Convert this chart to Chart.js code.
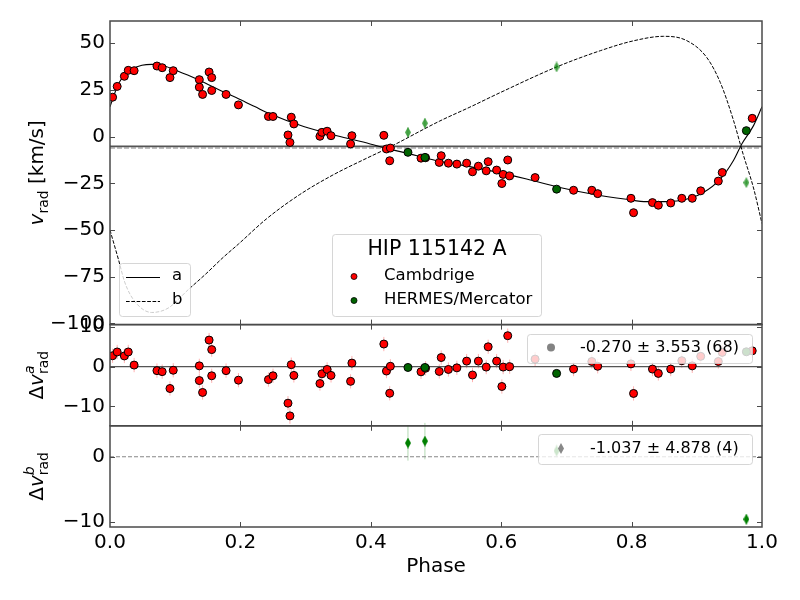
<!DOCTYPE html>
<html><head><meta charset="utf-8">
<script src="https://cdn.jsdelivr.net/npm/chart.js@4.4.1/dist/chart.umd.min.js"></script>
<style>
html,body{margin:0;padding:0;background:#fff;}
#wrap{position:relative;width:800px;height:600px;background:#fff;}
canvas{position:absolute;left:0;top:0;}
</style></head><body>
<div id="wrap">
<canvas id="c1" width="800" height="600"></canvas>
<canvas id="c2" width="800" height="600"></canvas>
<canvas id="c3" width="800" height="600"></canvas>
</div>
<script>
// ---------------- data ----------------
const camPhase = [0.004,0.011,0.022,0.028,0.037,0.072,0.080,0.092,0.097,0.137,0.137,0.142,0.152,0.156,0.156,0.178,0.197,0.243,0.250,0.273,0.276,0.278,0.282,0.322,0.325,0.333,0.339,0.369,0.371,0.420,0.424,0.429,0.430,0.477,0.484,0.505,0.508,0.519,0.532,0.547,0.556,0.565,0.577,0.580,0.593,0.601,0.603,0.610,0.613,0.652,0.711,0.739,0.748,0.799,0.803,0.832,0.841,0.860,0.877,0.893,0.906,0.933,0.939,0.985];
const camVrad = [21.1,26.9,32.3,35.5,35.3,37.8,36.9,31.6,35.3,30.5,26.5,22.6,34.6,31.6,24.7,22.6,17.0,10.8,10.8,0.9,-3.1,10.4,6.8,0.2,2.3,2.9,0.5,-3.9,0.5,0.7,-6.6,-12.9,-6.1,-11.5,-11.3,-13.8,-10.2,-14.2,-14.7,-14.2,-18.8,-15.8,-18.3,-13.4,-17.9,-25.1,-20.2,-12.5,-21.0,-21.9,-28.7,-28.7,-30.5,-33.0,-40.7,-35.3,-36.7,-35.5,-33.0,-33.0,-29.0,-23.8,-19.2,9.8];
const camResA = [2.75,3.7,2.7,3.7,0.4,-1.0,-1.25,-5.5,-0.9,0.2,-3.5,-6.5,6.7,4.3,-2.3,-1.0,-3.4,-3.25,-2.3,-9.2,-12.4,0.5,-2.2,-4.25,-1.8,-0.7,-2.2,-3.7,0.9,5.7,-1.1,-6.7,0.1,-1.3,-0.4,-1.2,2.3,-0.7,-0.3,1.4,-2.1,1.4,-0.1,5.0,1.4,-5.0,-0.1,7.8,0.0,1.9,-0.6,1.3,0.1,0.7,-6.75,-0.6,-1.7,-0.6,1.5,0.2,2.6,1.3,3.6,4.0];
const camErr = [1.8,1.8,1.8,1.8,1.8,1.8,1.8,1.8,1.8,1.8,1.8,1.8,1.8,1.8,1.8,1.8,1.8,1.8,1.8,1.8,2.0,1.8,1.8,1.8,1.8,1.8,1.8,1.8,1.8,1.8,1.8,1.8,1.8,1.8,1.8,1.8,1.8,1.8,1.8,1.8,1.8,1.8,1.8,1.8,1.8,1.8,1.8,1.8,1.8,1.8,1.8,1.8,1.8,1.8,1.8,1.8,1.8,1.8,1.8,1.8,1.8,1.8,1.8,1.8];

const herPhase = [0.457,0.483,0.685,0.976];
const herVrad  = [-8.4,-11.1,-28.1,3.2];
const herResA  = [-0.2,-0.2,-1.7,3.75];

const bPhase = [0.457,0.483,0.685,0.976];
const bVrad  = [2.3,7.2,37.3,-24.6];
const bResB  = [2.1,2.4,0.9,-9.6];
const bErr   = [2.7,2.8,1.0,0.8];

const modelAPhase = [0,0.013,0.022,0.033,0.049,0.064,0.079,0.095,0.120,0.146,0.171,0.197,0.222,0.245,0.297,0.348,0.399,0.424,0.450,0.501,0.537,0.588,0.639,0.690,0.741,0.792,0.823,0.854,0.884,0.910,0.936,0.956,0.969,0.987,1.0];
const modelAV     = [16,28.3,32.8,36,38.2,38.7,38.2,36.4,32.8,28.7,24.4,20.3,16.1,12.2,5.4,0.5,-3.9,-6.3,-8.4,-12.9,-15.1,-18.6,-22.7,-27.2,-30.8,-33.5,-34.8,-34.8,-33.5,-29.9,-22.7,-12.9,-3.9,5.9,16];
const modelBPhase = [0,0.013,0.023,0.038,0.064,0.089,0.120,0.146,0.174,0.197,0.240,0.291,0.342,0.394,0.424,0.506,0.552,0.598,0.685,0.752,0.803,0.849,0.884,0.915,0.936,0.956,0.971,0.987,1.0];
const modelBV     = [-50,-65.8,-78.3,-88.2,-94.1,-91.8,-81.9,-73.8,-64.5,-57.5,-44,-31,-20.5,-11.5,-6.5,8.4,15.8,23.5,37.3,46,51.3,53.7,51.5,42.5,29,9,-9.3,-27.5,-46.5];

const gammaA = -5.2;
const gammaB = -6.0;

const phaseTicks = [0,0.2,0.4,0.6,0.8,1.0];
const topTicks = [-100,-75,-50,-25,0,25,50];
const midTicks = [-10,0,10];
const botTicks = [-10,0];

const legendTitle = 'HIP 115142 A';
const seriesNames = ['Cambdrige','HERMES/Mercator'];
const modelNames = ['a','b'];
const statA = '-0.270 \u00b1 3.553 (68)';
const statB = '-1.037 \u00b1 4.878 (4)';

// ---------------- styling helpers ----------------
const FONT = "'DejaVu Sans', sans-serif";
const pts = (xs, ys) => xs.map((x, i) => ({x: x, y: ys[i]}));
const fmtY = v => (v < 0 ? '\u2212' : '') + Math.abs(v);

function thinDiamond(fill, w, h) {
  const c = document.createElement('canvas');
  c.width = w; c.height = h;
  const g = c.getContext('2d');
  g.fillStyle = fill;
  g.beginPath();
  g.moveTo(w / 2, 0); g.lineTo(w, h / 2); g.lineTo(w / 2, h); g.lineTo(0, h / 2);
  g.closePath(); g.fill();
  return c;
}
const diamondLight = thinDiamond('rgba(0,128,0,0.7)', 6, 11);
const diamondDark = thinDiamond('#008000', 6, 11);

function legendBox(ctx, x, y, w, h) {
  ctx.save();
  ctx.fillStyle = 'rgba(255,255,255,0.8)';
  ctx.strokeStyle = 'rgba(204,204,204,0.8)';
  ctx.lineWidth = 1;
  ctx.beginPath();
  ctx.roundRect(x + 0.5, y + 0.5, w, h, 3);
  ctx.fill(); ctx.stroke();
  ctx.restore();
}

function drawRotTitle(ctx, cx, cy, parts) {
  ctx.save();
  ctx.translate(cx, cy);
  ctx.rotate(-Math.PI / 2);
  ctx.fillStyle = '#000';
  ctx.textBaseline = 'alphabetic';
  ctx.textAlign = 'left';
  const widthOf = s => { ctx.font = s.font; return ctx.measureText(s.t).width; };
  let total = 0;
  parts.forEach(p => { total += p.stack ? Math.max(...p.stack.map(widthOf)) : widthOf(p); });
  let x = -total / 2;
  const base = 7;
  parts.forEach(p => {
    if (p.stack) {
      let w = 0;
      p.stack.forEach(s => { ctx.font = s.font; ctx.fillText(s.t, x, base + s.dy); w = Math.max(w, ctx.measureText(s.t).width); });
      x += w;
    } else {
      ctx.font = p.font; ctx.fillText(p.t, x, base + p.dy); x += ctx.measureText(p.t).width;
    }
  });
  ctx.restore();
}

function panelPlugin(cfg) {
  return {
    id: 'panel_' + cfg.id,
    beforeDatasetsDraw(chart) {
      const ctx = chart.ctx, xs = chart.scales.x, ys = chart.scales.y;
      ctx.save();
      ctx.lineWidth = 1;
      (cfg.errBars || []).forEach(eb => {
        ctx.strokeStyle = eb.color;
        eb.x.forEach((xv, i) => {
          const px = xs.getPixelForValue(xv);
          ctx.beginPath();
          ctx.moveTo(px, ys.getPixelForValue(eb.y[i] - eb.e[i]));
          ctx.lineTo(px, ys.getPixelForValue(eb.y[i] + eb.e[i]));
          ctx.stroke();
        });
      });
      ctx.restore();
    },
    afterDatasetsDraw(chart) {
      if (cfg.legend) cfg.legend(chart.ctx);
    },
    afterDraw(chart) {
      const ctx = chart.ctx, a = chart.chartArea, xs = chart.scales.x, ys = chart.scales.y;
      ctx.save();
      ctx.strokeStyle = '#4a4a4a';
      ctx.lineWidth = 1;
      cfg.yTicks.forEach(v => {
        const py = Math.round(ys.getPixelForValue(v)) + 0.5;
        if (py <= a.top + 1 || py >= a.bottom - 1) return;
        ctx.beginPath();
        ctx.moveTo(a.left, py); ctx.lineTo(a.left + 5, py);
        ctx.moveTo(a.right, py); ctx.lineTo(a.right - 5, py);
        ctx.stroke();
      });
      phaseTicks.forEach(v => {
        const px = Math.round(xs.getPixelForValue(v)) + 0.5;
        if (px <= a.left + 1 || px >= a.right - 1) return;
        ctx.beginPath();
        ctx.moveTo(px, a.top); ctx.lineTo(px, a.top + 5);
        ctx.moveTo(px, a.bottom); ctx.lineTo(px, a.bottom - 5);
        ctx.stroke();
      });
      ctx.lineWidth = 1.5;
      ctx.strokeRect(a.left, a.top, a.width, a.height);
      ctx.restore();
      drawRotTitle(ctx, cfg.titleX, (a.top + a.bottom) / 2, cfg.title);
      if (cfg.xTitle) {
        ctx.save();
        ctx.fillStyle = '#000';
        ctx.font = '20px ' + FONT;
        ctx.textAlign = 'center';
        ctx.textBaseline = 'middle';
        ctx.fillText(cfg.xTitle, (a.left + a.right) / 2, 567);
        ctx.restore();
      }
    }
  };
}

function yScale(min, max, ticks) {
  return {
    type: 'linear', min: min, max: max,
    afterFit: s => { s.width = 110; },
    afterBuildTicks: s => { s.ticks = ticks.map(v => ({value: v})); },
    grid: {display: false, drawTicks: false},
    border: {display: false},
    ticks: {font: {family: FONT, size: 20}, color: '#000', padding: 5, autoSkip: false, callback: fmtY}
  };
}
function xScale(show) {
  const s = {
    type: 'linear', min: 0, max: 1, display: show,
    afterBuildTicks: sc => { sc.ticks = phaseTicks.map(v => ({value: v})); },
    grid: {display: false, drawTicks: false},
    border: {display: false},
    ticks: {font: {family: FONT, size: 20}, color: '#000', padding: 4, autoSkip: false, maxRotation: 0, callback: v => v.toFixed(1)}
  };
  if (show) s.afterFit = sc => { sc.height = 73; };
  return s;
}
function baseOptions(pad, yMin, yMax, yTicks, showX) {
  return {
    responsive: false, animation: false, devicePixelRatio: 1,
    layout: {padding: {left: 0, right: 38, top: pad.top, bottom: pad.bottom}},
    plugins: {legend: {display: false}, tooltip: {enabled: false}},
    scales: {x: xScale(showX), y: yScale(yMin, yMax, yTicks)}
  };
}
const hLine = (y, color, width, dash, order) => ({
  data: [{x: 0, y: y}, {x: 1, y: y}], showLine: true, borderColor: color, borderWidth: width,
  borderDash: dash, pointRadius: 0, order: order, fill: false
});

const P_TOP = 21, P_MID = 324.6, P_BOT = 425.8;
const MR = 4;

// ---------------- top panel ----------------
new Chart(document.getElementById('c1'), {
  type: 'scatter',
  data: {datasets: [
    {label: seriesNames[1], data: pts(herPhase, herVrad), backgroundColor: '#006400', borderColor: '#000', borderWidth: 1, pointRadius: MR, order: 0},
    {label: seriesNames[0], data: pts(camPhase, camVrad), backgroundColor: '#ff0000', borderColor: '#000', borderWidth: 1, pointRadius: MR, order: 1},
    {label: 'b obs', data: pts(bPhase, bVrad), pointStyle: diamondLight, pointRadius: 5, order: 2},
    {label: modelNames[1], data: pts(modelBPhase, modelBV), showLine: true, borderColor: '#000', borderWidth: 1, borderDash: [3.7, 1.6], pointRadius: 0, cubicInterpolationMode: 'monotone', order: 3},
    {label: modelNames[0], data: pts(modelAPhase, modelAV), showLine: true, borderColor: '#000', borderWidth: 1.1, pointRadius: 0, cubicInterpolationMode: 'monotone', order: 4},
    hLine(gammaB, '#aaaaaa', 1.6, [5, 2], 5),
    hLine(gammaA, '#555555', 1.6, [], 6)
  ]},
  options: baseOptions({top: P_TOP, bottom: 600 - P_MID}, -100.6, 61.9, topTicks, false),
  plugins: [panelPlugin({
    id: 'top', yTicks: topTicks, titleX: 36,
    title: [{t: 'v', font: 'italic 20px ' + FONT, dy: 0}, {t: 'rad', font: '14px ' + FONT, dy: 5}, {t: ' [km/s]', font: '20px ' + FONT, dy: 0}],
    errBars: [
      {x: camPhase, y: camVrad, e: camErr, color: 'rgba(255,0,0,0.3)'},
      {x: bPhase, y: bVrad, e: bErr, color: 'rgba(0,128,0,0.3)'}
    ],
    legend: ctx => {
      legendBox(ctx, 119, 263, 71, 53);
      ctx.save();
      ctx.strokeStyle = '#000'; ctx.lineWidth = 1.1;
      ctx.beginPath(); ctx.moveTo(126, 277.5); ctx.lineTo(160, 277.5); ctx.stroke();
      ctx.setLineDash([3.7, 1.6]); ctx.lineWidth = 1;
      ctx.beginPath(); ctx.moveTo(126, 301.5); ctx.lineTo(160, 301.5); ctx.stroke();
      ctx.setLineDash([]);
      ctx.fillStyle = '#000'; ctx.font = '16.5px ' + FONT; ctx.textBaseline = 'middle'; ctx.textAlign = 'left';
      ctx.fillText(modelNames[0], 172, 276);
      ctx.fillText(modelNames[1], 172, 300);
      legendBox(ctx, 332, 234, 209, 82);
      ctx.textAlign = 'center'; ctx.font = '20.5px ' + FONT;
      ctx.fillText(legendTitle, 437, 250);
      ctx.textAlign = 'left'; ctx.font = '16.5px ' + FONT;
      ctx.fillText(seriesNames[0], 384, 276);
      ctx.fillText(seriesNames[1], 384, 300);
      ctx.lineWidth = 0.8; ctx.strokeStyle = '#000';
      ctx.fillStyle = '#ff0000'; ctx.beginPath(); ctx.arc(354, 276.5, 3, 0, 2 * Math.PI); ctx.fill(); ctx.stroke();
      ctx.fillStyle = '#006400'; ctx.beginPath(); ctx.arc(354, 300.5, 3, 0, 2 * Math.PI); ctx.fill(); ctx.stroke();
      ctx.restore();
    }
  })]
});

// ---------------- residuals of a ----------------
new Chart(document.getElementById('c2'), {
  type: 'scatter',
  data: {datasets: [
    {label: seriesNames[1], data: pts(herPhase, herResA), backgroundColor: '#006400', borderColor: '#000', borderWidth: 1, pointRadius: MR, order: 0},
    {label: seriesNames[0], data: pts(camPhase, camResA), backgroundColor: '#ff0000', borderColor: '#000', borderWidth: 1, pointRadius: MR, order: 1},
    hLine(0, '#555555', 1.4, [], 5)
  ]},
  options: baseOptions({top: P_MID, bottom: 600 - P_BOT}, -14.9, 10.6, midTicks, false),
  plugins: [panelPlugin({
    id: 'mid', yTicks: midTicks, titleX: 36,
    title: [{t: '\u0394', font: '20px ' + FONT, dy: 0}, {t: 'v', font: 'italic 20px ' + FONT, dy: 0},
            {stack: [{t: 'a', font: 'italic 14px ' + FONT, dy: -9}, {t: 'rad', font: '14px ' + FONT, dy: 5}]}],
    errBars: [{x: camPhase, y: camResA, e: camErr, color: 'rgba(255,0,0,0.3)'}],
    legend: ctx => {
      legendBox(ctx, 527, 334, 225, 29);
      ctx.save();
      ctx.fillStyle = 'rgba(90,90,90,0.75)';
      ctx.beginPath(); ctx.arc(551, 347.5, 4, 0, 2 * Math.PI); ctx.fill();
      ctx.fillStyle = '#000'; ctx.font = '16px ' + FONT; ctx.textBaseline = 'middle'; ctx.textAlign = 'left';
      ctx.fillText(statA, 580, 348);
      ctx.restore();
    }
  })]
});

// ---------------- residuals of b ----------------
new Chart(document.getElementById('c3'), {
  type: 'scatter',
  data: {datasets: [
    {label: 'b res', data: pts(bPhase, bResB), pointStyle: diamondDark, pointRadius: 5, order: 0},
    hLine(0, '#888888', 1.1, [4, 2], 5)
  ]},
  options: baseOptions({top: P_BOT, bottom: 0}, -10.8, 4.75, botTicks, true),
  plugins: [panelPlugin({
    id: 'bot', yTicks: botTicks, titleX: 36, xTitle: 'Phase',
    title: [{t: '\u0394', font: '20px ' + FONT, dy: 0}, {t: 'v', font: 'italic 20px ' + FONT, dy: 0},
            {stack: [{t: 'b', font: 'italic 14px ' + FONT, dy: -9}, {t: 'rad', font: '14px ' + FONT, dy: 5}]}],
    errBars: [{x: bPhase, y: bResB, e: bErr, color: 'rgba(0,128,0,0.3)'}],
    legend: ctx => {
      legendBox(ctx, 538, 434, 214, 30);
      ctx.save();
      ctx.globalAlpha = 0.7;
      ctx.drawImage(thinDiamond('#555555', 6, 11), 558, 443);
      ctx.globalAlpha = 1;
      ctx.fillStyle = '#000'; ctx.font = '16px ' + FONT; ctx.textBaseline = 'middle'; ctx.textAlign = 'left';
      ctx.fillText(statB, 590, 449);
      ctx.restore();
    }
  })]
});
</script>
</body></html>
